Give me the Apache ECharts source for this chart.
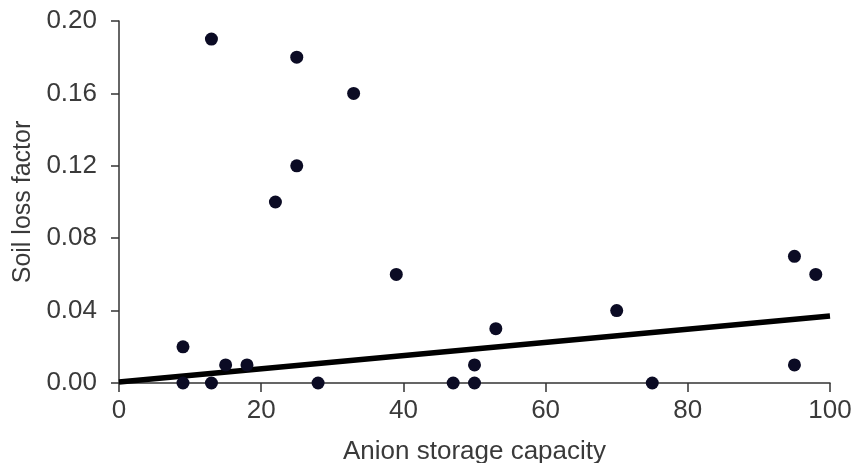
<!DOCTYPE html>
<html><head><meta charset="utf-8">
<script src="https://cdn.jsdelivr.net/npm/echarts@6/dist/echarts.min.js"></script>
<style>html,body{margin:0;padding:0;background:#fff}#c{width:855px;height:463px}</style>
</head><body><div id="c"></div>
<script>
var storageX = [13, 25, 33, 25, 22, 39, 95, 98, 70, 53, 9, 15, 18, 50, 95, 9, 13, 28, 47, 50, 75];
var lossY = [0.19, 0.18, 0.16, 0.12, 0.10, 0.06, 0.07, 0.06, 0.04, 0.03, 0.02, 0.01, 0.01, 0.01, 0.01, 0, 0, 0, 0, 0, 0];
var trendX = [0, 100];
var trendY = [0.0005, 0.037];
var xTicks = [0, 20, 40, 60, 80, 100];
var yTicks = [0, 0.04, 0.08, 0.12, 0.16, 0.20];

var pts = storageX.map(function(x, i){ return [x, lossY[i]]; });
var line = trendX.map(function(x, i){ return [x, trendY[i]]; });
var font = '"Liberation Sans", Arial, sans-serif';
var txt = '#3a3a3a';
var chart = echarts.init(document.getElementById('c'));
chart.setOption({
  animation: false,
  backgroundColor: '#fff',
  grid: {left: 119, right: 25, top: 21, bottom: 80, containLabel: false, outerBoundsMode: 'none'},
  xAxis: {
    type: 'value', min: xTicks[0], max: xTicks[xTicks.length-1], interval: 20,
    name: 'Anion storage capacity', nameLocation: 'middle', nameGap: 56,
    nameTextStyle: {fontFamily: font, fontSize: 26, color: txt},
    axisLine: {show: true, lineStyle: {color: '#333', width: 1.5}},
    axisTick: {show: true, length: 9, lineStyle: {color: '#333', width: 1.5}},
    axisLabel: {fontFamily: font, fontSize: 26, color: txt, margin: 15},
    splitLine: {show: false}
  },
  yAxis: {
    type: 'value', min: yTicks[0], max: yTicks[yTicks.length-1], interval: 0.04,
    name: 'Soil loss factor', nameLocation: 'middle', nameGap: 76,
    nameTextStyle: {fontFamily: font, fontSize: 25, color: txt},
    axisLine: {show: true, lineStyle: {color: '#333', width: 1.5}},
    axisTick: {show: true, length: 8, lineStyle: {color: '#333', width: 1.5}},
    axisLabel: {fontFamily: font, fontSize: 26, color: txt, margin: 22,
      formatter: function(v){ return v.toFixed(2); }},
    splitLine: {show: false}
  },
  series: [
    {type: 'line', data: line, symbol: 'none', lineStyle: {color: '#000', width: 5.5}, z: 2},
    {type: 'scatter', data: pts, symbolSize: 13, itemStyle: {color: '#0b0b24', opacity: 1}, z: 3}
  ]
});
</script></body></html>
